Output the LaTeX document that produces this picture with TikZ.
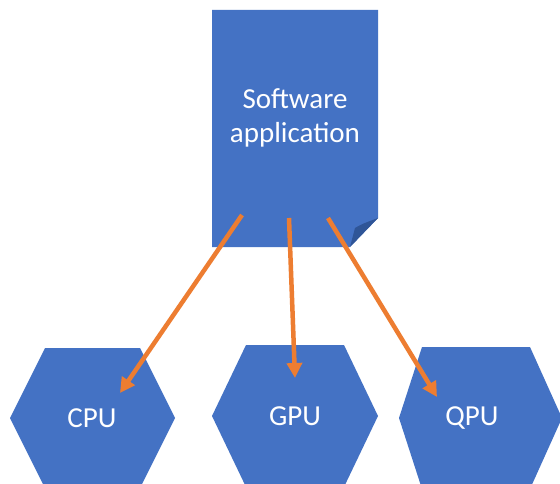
\documentclass[tikz,border=0pt]{standalone}
\usepackage{fontspec}
\setmainfont{Carlito}
\usetikzlibrary{arrows.meta}
\definecolor{boxblue}{HTML}{4472C4}
\definecolor{folddark}{HTML}{2F5597}
\definecolor{arroworange}{HTML}{ED7D31}
\tikzset{
  unitbox/.style={fill=boxblue, draw=none},
  label/.style={text=white, font=\fontsize{29}{34}\selectfont, align=center, inner sep=0pt},
  flow/.style={draw=arroworange, line width=4.5pt, -{Triangle[length=15pt,width=15pt]}}
}
\begin{document}
\begin{tikzpicture}[x=1pt,y=-1pt]
  \clip (0,0) rectangle (560,484);
  \fill[white] (0,0) rectangle (560,484);

  % document shape with folded corner
  \fill[unitbox] (212,10) -- (378,10) -- (378,218) -- (350,247) -- (212,247) -- cycle;
  \fill[folddark] (350,247) -- (355,228) .. controls (362,224) .. (378,218) -- cycle;
  \node[label] (app) at (295,118) {Software\\application};

  % processing units
  \fill[unitbox] (10,418) -- (45,348) -- (140,348) -- (175,418) -- (140,488) -- (45,488) -- cycle;
  \node[label] (cpu) at (92,418) {CPU};
  \fill[unitbox] (212,416) -- (246,345) -- (344,345) -- (378,416) -- (344,487) -- (246,487) -- cycle;
  \node[label] (gpu) at (295,416) {GPU};
  \fill[unitbox] (399,418) -- (422,347) -- (530,347) -- (562,418) -- (530,489) -- (422,489) -- cycle;
  \node[label] (qpu) at (472,418) {QPU};

  % connector end points
  \coordinate (s1) at (242,215);
  \coordinate (s2) at (289,218);
  \coordinate (s3) at (328,218);
  \coordinate (e1) at (120,393);
  \coordinate (e2) at (295,378);
  \coordinate (e3) at (437,397);

  \draw[flow] (s1) -- (e1);
  \draw[flow] (s2) -- (e2);
  \draw[flow] (s3) -- (e3);
\end{tikzpicture}
\end{document}
